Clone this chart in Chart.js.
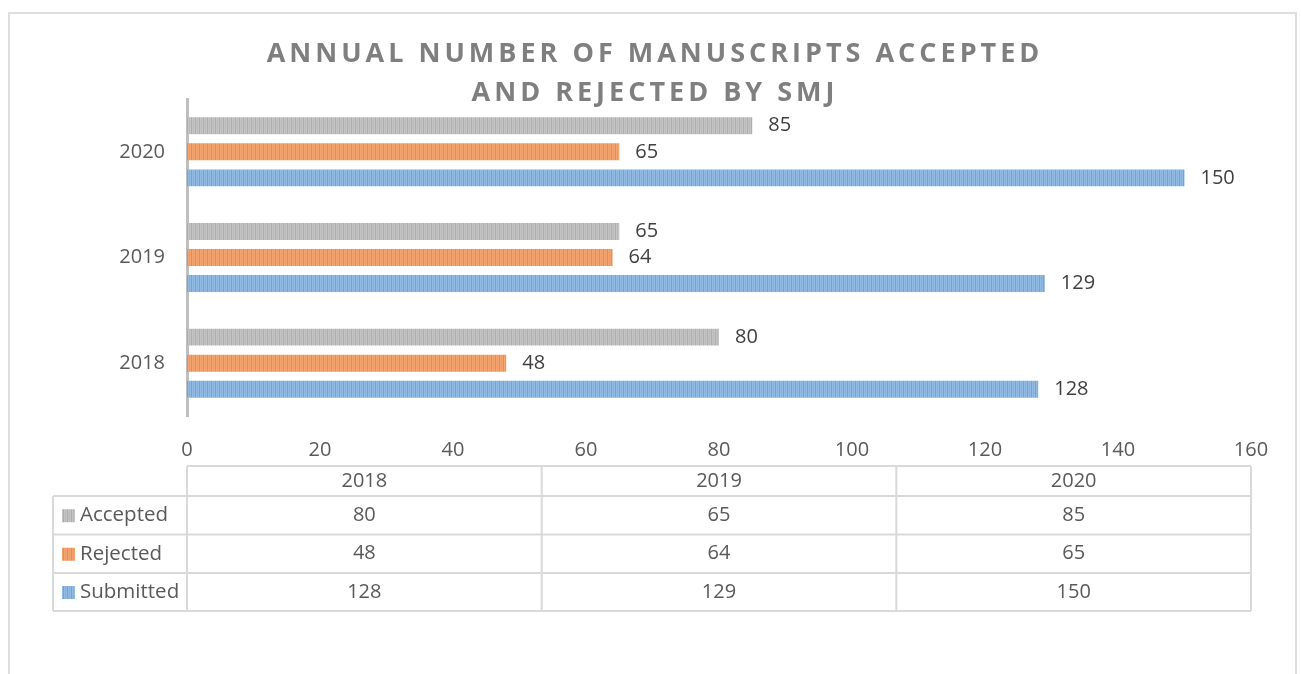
<!DOCTYPE html>
<html>
<head>
<meta charset="utf-8">
<script src="https://cdn.jsdelivr.net/npm/chart.js@4/dist/chart.umd.min.js"></script>
<style>
  html, body { margin: 0; padding: 0; background: #fff; overflow: hidden; }
  #frame { position: absolute; left: 8px; top: 12px; width: 1289px; height: 700px;
           border: 2px solid #dedede; box-sizing: border-box; }
  #c { position: absolute; left: 0; top: 0; }
</style>
</head>
<body>
<div id="frame"></div>
<canvas id="c" width="1301" height="674"></canvas>
<script>
const years = ['2018', '2019', '2020'];
const accepted = [80, 65, 85];
const rejected = [48, 64, 65];
const submitted = [128, 129, 150];
const xTicks = [0, 20, 40, 60, 80, 100, 120, 140, 160];

const canvas = document.getElementById('c');
const ctx = canvas.getContext('2d');

// striped fill like the excel bars
function stripes(light, mid, dark) {
    const tile = document.createElement('canvas');
    tile.width = 4; tile.height = 4;
    const g = tile.getContext('2d');
    g.fillStyle = light; g.fillRect(0, 0, 4, 4);
    g.fillStyle = mid; g.fillRect(1, 0, 1, 4);
    g.fillStyle = dark; g.fillRect(3, 0, 1, 4);
    return ctx.createPattern(tile, 'repeat');
}

const grayFill = stripes('#c4c4c4', '#bababa', '#aeaeae');
const orangeFill = stripes('#f4a56f', '#f19a5e', '#ed8a48');
const blueFill = stripes('#92bbe4', '#82b0df', '#6ea4da');

const textColor = '#595959';
const font = 'Open Sans';

const valueLabels = {
    id: 'valueLabels',
    afterDatasetsDraw(chart) {
        const c = chart.ctx;
        c.save();
        c.font = '20px "' + font + '"';
        c.fillStyle = '#404040';
        c.textAlign = 'left';
        c.textBaseline = 'middle';
        chart.data.datasets.forEach((ds, i) => {
            chart.getDatasetMeta(i).data.forEach((bar, j) => {
                c.fillText(String(ds.data[j]), bar.x + 16, bar.y);
            });
        });
        c.restore();
    }
};

// spaced title letters
const titleSpacing = {
    id: 'titleSpacing',
    beforeDraw(chart) {
        const tb = chart.titleBlock;
        if (!tb || tb._spaced) return;
        const orig = tb.draw.bind(tb);
        tb.draw = function (area) {
            const c = chart.ctx;
            c.save();
            c.letterSpacing = '4px';
            orig(area);
            c.restore();
        };
        tb._spaced = true;
    }
};

// data table under the chart
const dataTable = {
    id: 'dataTable',
    afterDraw(chart) {
        const c = chart.ctx;
        const area = chart.chartArea;
        const left = area.left, right = area.right;
        const labelLeft = 53;
        const rows = [466, 496, 534.5, 573, 611];
        const colW = (right - left) / years.length;
        const series = chart.data.datasets;

        c.save();
        c.strokeStyle = '#d9d9d9';
        c.lineWidth = 2;
        c.beginPath();
        c.moveTo(left, rows[0]); c.lineTo(right, rows[0]);
        for (let r = 1; r < rows.length; r++) {
            c.moveTo(labelLeft, rows[r]); c.lineTo(right, rows[r]);
        }
        c.moveTo(labelLeft, rows[1]); c.lineTo(labelLeft, rows[4]);
        for (let k = 0; k <= years.length; k++) {
            const x = left + k * colW;
            c.moveTo(x, rows[0]); c.lineTo(x, rows[4]);
        }
        c.stroke();

        c.font = '20px "' + font + '"';
        c.fillStyle = textColor;
        c.textBaseline = 'middle';
        c.textAlign = 'center';
        years.forEach((y, k) => {
            c.fillText(y, left + (k + 0.5) * colW, (rows[0] + rows[1]) / 2);
        });
        series.forEach((ds, i) => {
            const yMid = (rows[i + 1] + rows[i + 2]) / 2;
            ds.data.forEach((v, k) => {
                c.fillStyle = textColor;
                c.textAlign = 'center';
                c.fillText(String(v), left + (k + 0.5) * colW, yMid);
            });
            c.fillStyle = ds.backgroundColor;
            c.fillRect(62, yMid - 6, 13, 13);
            c.fillStyle = textColor;
            c.textAlign = 'left';
            c.font = '20.5px "' + font + '"';
            c.fillText(ds.label, 80, yMid);
            c.font = '20px "' + font + '"';
        });
        c.restore();
    }
};

new Chart(ctx, {
    type: 'bar',
    data: {
        labels: years,
        datasets: [
            { label: 'Accepted', data: accepted, backgroundColor: grayFill },
            { label: 'Rejected', data: rejected, backgroundColor: orangeFill },
            { label: 'Submitted', data: submitted, backgroundColor: blueFill }
        ]
    },
    options: {
        indexAxis: 'y',
        responsive: false,
        animation: false,
        events: [],
        layout: { padding: { left: 59, right: 50, top: 0, bottom: 208 } },
        datasets: {
            bar: { barPercentage: 0.65, categoryPercentage: 0.74 }
        },
        plugins: {
            legend: { display: false },
            tooltip: { enabled: false },
            title: {
                display: true,
                text: ['ANNUAL NUMBER OF MANUSCRIPTS ACCEPTED', 'AND REJECTED BY SMJ'],
                color: '#7f7f7f',
                font: { family: font, size: 27, weight: 'bold', lineHeight: 1.4445 },
                padding: { top: 35, bottom: -14 }
            }
        },
        scales: {
            x: {
                min: 0,
                max: 160,
                afterBuildTicks(scale) { scale.ticks = xTicks.map(v => ({ value: v })); },
                afterFit(scale) { scale.height = 50; },
                grid: { display: false, drawTicks: false },
                border: { display: false },
                ticks: { color: textColor, padding: 22, font: { family: font, size: 20 } }
            },
            y: {
                reverse: true,
                afterFit(scale) { scale.width = 128; },
                grid: { drawOnChartArea: false, drawTicks: false },
                border: { display: true, color: '#bfbfbf', width: 3 },
                ticks: { color: textColor, padding: 22, font: { family: font, size: 20 } }
            }
        }
    },
    plugins: [valueLabels, titleSpacing, dataTable]
});
</script>
</body>
</html>
